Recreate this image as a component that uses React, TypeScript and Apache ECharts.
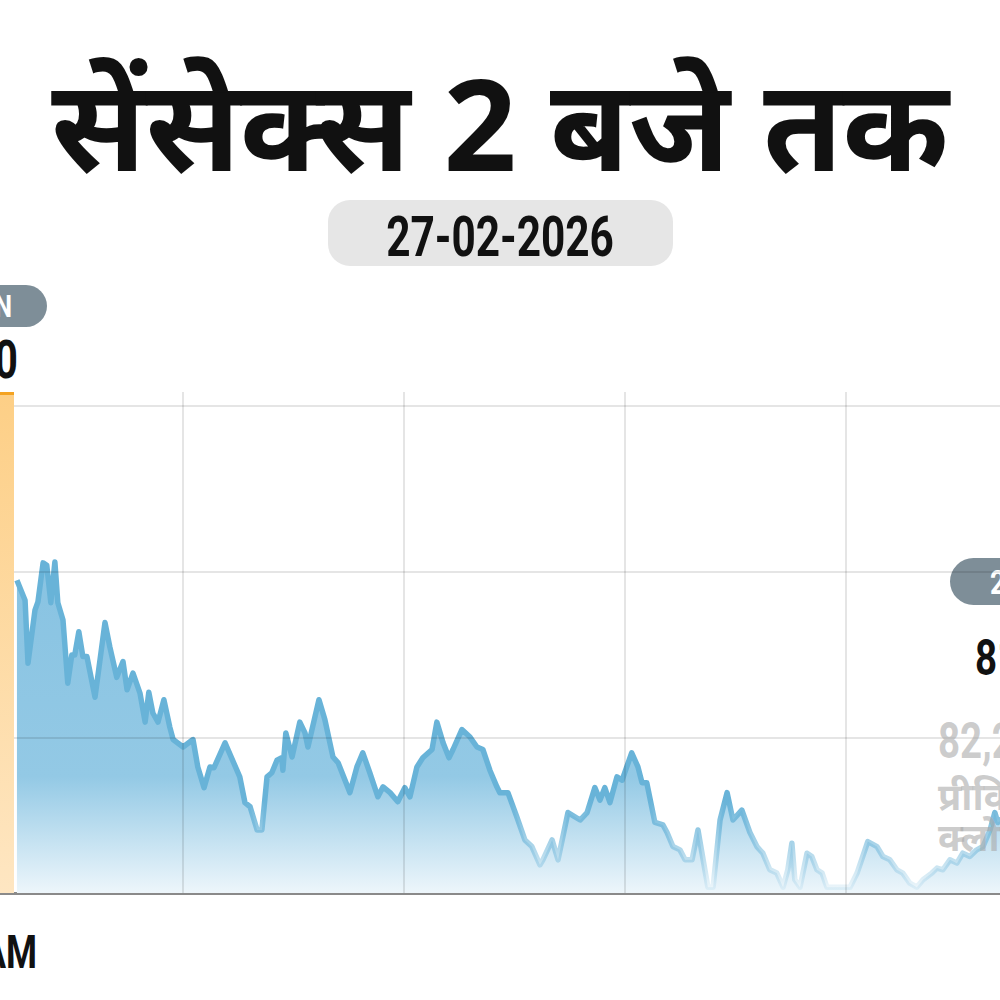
import React, { useEffect, useRef } from "react";
import * as echarts from "echarts";

// ---- texts ----
const TITLE = "सेंसेक्स 2 बजे तक";
const DATE_LABEL = "27-02-2026";
const OPEN_TAG = "OPEN";
const OPEN_VALUE = "82,181.90";
const START_TIME = "9:15 AM";
const NOW_TAG = "2 PM";
const NOW_VALUE = "81,905.15";
const PREV_CLOSE_VALUE = "82,248.61";
const PREV_CLOSE_LINES = ["प्रीवियस", "क्लोज"];

// ---- data: minutes after 9:15 and Sensex level ----
const minutes = [
  0, 2.2, 3.0, 4.9, 5.7, 7.1, 8.1, 9.2, 10.3, 11.1, 12.5, 13.8, 14.9, 15.7, 16.8, 17.9, 19.0,
  21.2, 23.9, 25.2, 27.1, 28.8, 29.9, 31.5, 33.4, 34.8, 35.8, 36.9, 38.3, 39.9, 41.5, 42.4,
  45.1, 47.8, 49.1, 50.8, 52.4, 53.5, 56.5, 60.5, 61.9, 63.3, 65.2, 66.5, 67.9, 69.2, 70.6,
  71.9, 72.2, 73.0, 74.7, 76.8, 78.2, 79.0, 82.0, 83.6, 85.8, 87.2, 90.4, 92.3, 93.9, 95.8,
  98.0, 99.4, 101.3, 103.4, 105.3, 106.7, 108.6, 110.2, 112.7, 114.0, 115.7, 117.3, 118.4,
  120.8, 123.0, 124.9, 126.5, 128.4, 130.3, 131.1, 133.3, 135.7, 137.9, 139.8, 142.0, 142.8,
  145.3, 146.9, 149.6, 152.9, 154.8, 156.9, 158.3, 159.6, 161.0, 162.9, 164.3, 166.9, 168.6,
  169.7, 171.0, 173.2, 175.4, 176.5, 178.1, 180.0, 181.4, 183.3, 184.9, 186.3, 187.6, 189.0,
  190.9, 192.8, 194.4, 196.8, 199.0, 200.9, 202.5, 204.4, 206.3, 208.0, 209.3, 210.4, 211.2,
  212.6, 214.5, 215.8, 217.2, 218.6, 219.9, 221.5, 224.3, 226.2, 228.1, 231.0, 233.5, 235.1,
  237.0, 238.9, 240.5, 242.4, 244.3, 246.0, 248.4, 249.8, 251.4, 253.3, 255.2, 256.8, 258.7,
  260.6, 262.3, 264.2, 265.5, 266.3, 268.0,
];
const values = [
  82190, 82166, 82090, 82154, 82164, 82211, 82208, 82163, 82212, 82163, 82142, 82066, 82100,
  82100, 82128, 82098, 82098, 82049, 82139, 82110, 82073, 82092, 82058, 82078, 82054, 82019,
  82055, 82030, 82019, 82046, 82013, 81998, 81989, 81998, 81965, 81940, 81965, 81964, 81994,
  81953, 81922, 81917, 81889, 81889, 81953, 81958, 81973, 81976, 81961, 82006, 81977, 82019,
  82006, 81989, 82046, 82022, 81977, 81970, 81934, 81965, 81982, 81958, 81929, 81941, 81934,
  81923, 81940, 81929, 81965, 81976, 81986, 82019, 81994, 81976, 81986, 82010, 82001, 81989,
  81986, 81961, 81941, 81934, 81934, 81905, 81877, 81869, 81847, 81853, 81877, 81853, 81910,
  81901, 81910, 81940, 81925, 81940, 81922, 81953, 81949, 81982, 81965, 81946, 81946, 81898,
  81895, 81886, 81869, 81865, 81853, 81853, 81889, 81853, 81820, 81820, 81901, 81934, 81901,
  81913, 81886, 81869, 81861, 81841, 81837, 81820, 81841, 81873, 81829, 81820, 81861, 81857,
  81841, 81837, 81820, 81820, 81820, 81820, 81837, 81875, 81869, 81857, 81853, 81841, 81837,
  81825, 81820, 81829, 81837, 81843, 81841, 81853, 81849, 81861, 81857, 81865, 81869, 81889,
  81910, 81898, 81905,
];
const hourMarks = [45, 105, 165, 225]; // 10:00, 11:00, 12:00, 13:00
const levelMarks = [82000, 82200, 82400];
const X_MIN = -4.6;
const X_MAX = 266.9;
const Y_MIN = 81813;
const Y_MAX = 82417;
const OPEN_BAR_END = -0.8;

const COND = "Roboto, 'Liberation Sans', sans-serif";
const DEVA = "'Noto Sans', 'Noto Sans Devanagari', 'Lohit Devanagari', 'FreeSans', sans-serif";

export default function App() {
  const ref = useRef<HTMLDivElement>(null);
  useEffect(() => {
    if (!ref.current) return;
    const chart = echarts.init(ref.current, undefined, { renderer: "svg" });
    const lineGrad = {
      type: "linear", x: 0, y: 800, x2: 0, y2: 893, global: true,
      colorStops: [
        { offset: 0, color: "rgba(104,179,216,1)" },
        { offset: 1, color: "rgba(104,179,216,0.08)" },
      ],
    };
    const areaGrad = {
      type: "linear", x: 0, y: 560, x2: 0, y2: 893, global: true,
      colorStops: [
        { offset: 0, color: "#88c3e2" },
        { offset: 0.65, color: "#93c9e5" },
        { offset: 1, color: "#edf6fb" },
      ],
    };
    const option: any = {
      animation: false,
      backgroundColor: "#ffffff",
      grid: { left: 0, right: 0, top: 392, bottom: 107 },
      xAxis: {
        type: "value", min: X_MIN, max: X_MAX,
        axisLine: { show: true, onZero: false, lineStyle: { color: "#8a8a8a", width: 3 } },
        axisTick: { show: false }, axisLabel: { show: false }, splitLine: { show: false },
      },
      yAxis: { type: "value", min: Y_MIN, max: Y_MAX, show: false, splitLine: { show: false } },
      series: [
        {
          type: "line",
          data: minutes.map((m, i) => [m, values[i]]),
          showSymbol: false,
          symbol: "none",
          lineStyle: { width: 5.5, color: lineGrad, join: "round" },
          areaStyle: { color: areaGrad, opacity: 1 },
          z: 2,
          markLine: {
            silent: true, symbol: "none", z: 5,
            label: { show: false },
            lineStyle: { color: "rgba(0,0,0,0.1)", width: 2, type: "solid" },
            data: [
              ...hourMarks.map((m) => ({ xAxis: m })),
              ...levelMarks.map((v) => ({ yAxis: v })),
            ],
          },
          markArea: {
            silent: true, z: 10,
            data: [
              [
                {
                  xAxis: X_MIN,
                  itemStyle: {
                    color: {
                      type: "linear", x: 0, y: 0, x2: 0, y2: 1,
                      colorStops: [
                        { offset: 0, color: "#fdcf86" },
                        { offset: 1, color: "#fee6c2" },
                      ],
                    },
                  },
                },
                { xAxis: OPEN_BAR_END },
              ],
              [
                { xAxis: X_MIN, yAxis: Y_MAX, itemStyle: { color: "#f4a322" } },
                { xAxis: OPEN_BAR_END, yAxis: Y_MAX - 3.6 },
              ],
            ],
          },
        },
      ],
      graphic: [
        {
          type: "text", x: 500, y: 121,
          style: { text: TITLE, fontFamily: DEVA, fontWeight: "bold", fontSize: 128, fill: "#111", align: "center", verticalAlign: "middle" },
        },
        { type: "rect", shape: { x: 328, y: 200, width: 345, height: 66, r: 22 }, style: { fill: "#e6e6e6" } },
        {
          type: "text", x: 500, y: 237, scaleX: 0.77,
          style: { text: DATE_LABEL, fontFamily: COND, fontWeight: "bold", fontSize: 55, fill: "#111", align: "center", verticalAlign: "middle" },
        },
        { type: "rect", shape: { x: -80, y: 285, width: 127, height: 42, r: 21 }, style: { fill: "#7e8e98" } },
        {
          type: "text", x: 12, y: 307, scaleX: 0.8,
          style: { text: OPEN_TAG, fontFamily: COND, fontWeight: "bold", fontSize: 31, fill: "#fff", align: "right", verticalAlign: "middle" },
        },
        {
          type: "text", x: 18, y: 360, scaleX: 0.77,
          style: { text: OPEN_VALUE, fontFamily: COND, fontWeight: "bold", fontSize: 53, fill: "#111", align: "right", verticalAlign: "middle" },
        },
        {
          type: "text", x: 37, y: 952, scaleX: 0.77,
          style: { text: START_TIME, fontFamily: COND, fontWeight: "bold", fontSize: 46, fill: "#111", align: "right", verticalAlign: "middle" },
        },
        { type: "rect", shape: { x: 950, y: 558, width: 140, height: 47, r: 23.5 }, style: { fill: "#7e8e98" } },
        {
          type: "text", x: 990, y: 582, scaleX: 0.8,
          style: { text: NOW_TAG, fontFamily: COND, fontWeight: "bold", fontSize: 34, fill: "#fff", align: "left", verticalAlign: "middle" },
        },
        {
          type: "text", x: 975, y: 658, scaleX: 0.77,
          style: { text: NOW_VALUE, fontFamily: COND, fontWeight: "bold", fontSize: 50, fill: "#111", align: "left", verticalAlign: "middle" },
        },
        {
          type: "text", x: 938, y: 741, scaleX: 0.77, z: 20,
          style: { text: PREV_CLOSE_VALUE, fontFamily: COND, fontWeight: "bold", fontSize: 50, fill: "rgba(170,170,170,0.6)", align: "left", verticalAlign: "middle" },
        },
        {
          type: "text", x: 938, y: 774, z: 20,
          style: {
            text: PREV_CLOSE_LINES.join("\n"), fontFamily: DEVA, fontWeight: "bold", fontSize: 38, lineHeight: 41,
            fill: "rgba(170,170,170,0.6)", align: "left", verticalAlign: "top",
          },
        },
      ],
    };
    chart.setOption(option);
    return () => chart.dispose();
  }, []);
  return (
    <div
      ref={ref}
      style={{ position: "fixed", left: 0, top: 0, width: 1000, height: 1000, background: "#fff" }}
    />
  );
}
